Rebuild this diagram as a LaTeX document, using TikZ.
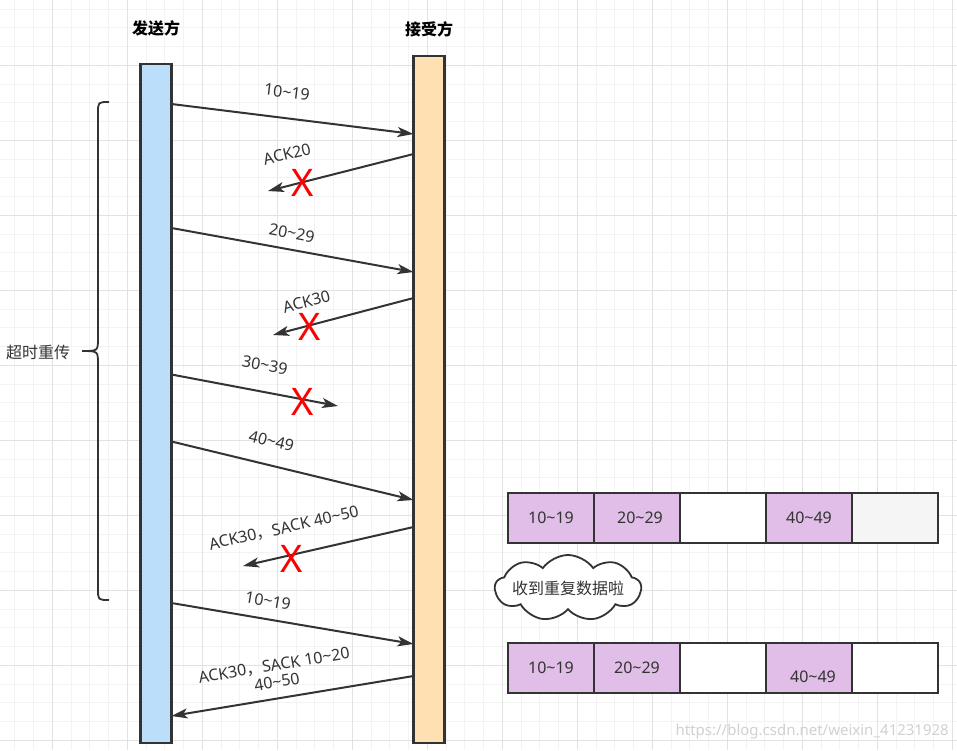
\documentclass[tikz,border=0pt]{standalone}
\usepackage{fontspec}
\setmainfont{Noto Sans}
\newfontfamily\cjk{Noto Sans CJK SC}
\usetikzlibrary{positioning,shapes.symbols,arrows.meta}
\definecolor{sendblue}{RGB}{187,222,251}
\definecolor{recvorange}{RGB}{255,224,178}
\definecolor{cellpurple}{RGB}{225,190,231}
\definecolor{cellgray}{RGB}{245,245,245}
\definecolor{linegray}{RGB}{51,51,51}
\definecolor{gridminor}{RGB}{243,243,243}
\definecolor{gridmajor}{RGB}{226,226,226}
\definecolor{lostred}{RGB}{255,0,0}
\newcommand{\tld}{\textasciitilde}

\begin{document}
\begin{tikzpicture}[x=1pt, y=-1pt,
    bar/.style={rectangle, draw=linegray, line width=2.2pt, minimum width=31pt, inner sep=0pt, outer sep=0pt},
    cell/.style={rectangle, draw=linegray, line width=2.2pt, minimum width=86pt, minimum height=50pt, inner sep=0pt, outer sep=0pt, text=linegray, font=\fontsize{16}{19}\selectfont},
    msg/.style={draw=linegray, line width=2pt, -{Stealth[length=16pt,width=10pt,inset=4pt]}},
    msglabel/.style={text=linegray, font=\fontsize{16}{17}\selectfont, inner sep=0pt},
    cjklabel/.style={text=linegray, font=\fontsize{16}{17}\selectfont\cjk, inner sep=0pt},
    lost/.style={text=lostred, font=\fontsize{38}{38}\selectfont, inner sep=0pt},
    title/.style={font=\fontsize{16}{19}\selectfont\cjk\bfseries, inner sep=0pt}]

    % background and grid
    \fill[white] (0,0) rectangle (957,750);
    \useasboundingbox (0,0) rectangle (957,750);
    \foreach \k in {0,...,50}
        \draw[gridminor, line width=1pt] ({14.8+18.75*\k},0) -- ({14.8+18.75*\k},750);
    \foreach \k in {0,...,40}
        \draw[gridminor, line width=1pt] (0,{-9.7+18.75*\k}) -- (957,{-9.7+18.75*\k});
    \foreach \k in {0,...,12}
        \draw[gridmajor, line width=1pt] ({52.3+75*\k},0) -- ({52.3+75*\k},750);
    \foreach \k in {1,...,10}
        \draw[gridmajor, line width=1pt] (0,{-9.7+75*\k}) -- (957,{-9.7+75*\k});

    % the two sides
    \node[bar, fill=sendblue, minimum height=679pt] (snd) at (156,403.5) {};
    \node[bar, fill=recvorange, minimum height=687pt] (rcv) at (429,399.5) {};
    \node[title, above=28pt of snd] (sndtitle) {发送方};
    \node[title, above=19pt of rcv] (rcvtitle) {接受方};

    % timeout brace
    \draw[linegray, line width=1.8pt] (109,102) .. controls (98,102) .. (98,113) -- (98,338)
        .. controls (98,351) .. (82,351) .. controls (98,351) .. (98,364) -- (98,589)
        .. controls (98,600) .. (109,600);
    \node[cjklabel] (retx) at (38,352) {超时重传};

    % segments and acks
    \draw[msg] (snd.east |- 0,104) -- (rcv.west |- 0,134);
    \node[msglabel, rotate=-6.9] (seg1019) at (287,92) {10\tld19};

    \coordinate (ack20end) at (268,191);
    \draw[msg] (rcv.west |- 0,154) -- (ack20end);
    \node[msglabel, rotate=13.7] (ack20) at (287,154) {ACK20};
    \node[lost] (lost1) at (303,183) {X};

    \draw[msg] (snd.east |- 0,228) -- (rcv.west |- 0,272);
    \node[msglabel, rotate=-10.4] (seg2029) at (292,233) {20\tld29};

    \coordinate (ack30end) at (273,335);
    \draw[msg] (rcv.west |- 0,298) -- (ack30end);
    \node[msglabel, rotate=14.5] (ack30) at (306.5,301.5) {ACK30};
    \node[lost] (lost2) at (309.5,327) {X};

    \coordinate (seg3039end) at (338,406);
    \draw[msg] (snd.east |- 0,374.5) -- (seg3039end);
    \node[msglabel, rotate=-10.6] (seg3039) at (265,365) {30\tld39};
    \node[lost] (lost3) at (302.5,402) {X};

    \draw[msg] (snd.east |- 0,441.5) -- (rcv.west |- 0,500);
    \node[msglabel, rotate=-13.8] (seg4049) at (271.5,441) {40\tld49};

    \coordinate (sack1end) at (243,566);
    \draw[msg] (rcv.west |- 0,527) -- (sack1end);
    \node[msglabel, rotate=12.7] (sack1) at (284,528.5) {ACK30{\cjk ，}SACK 40\tld50};
    \node[lost] (lost4) at (291.5,558.5) {X};

    \draw[msg] (snd.east |- 0,603) -- (rcv.west |- 0,644);
    \node[msglabel, rotate=-9.7] (resend) at (268,601) {10\tld19};

    \draw[msg] (rcv.west |- 0,676) -- (snd.east |- 0,716);
    \node[msglabel, rotate=9.5, align=center] (sack2) at (275.5,673.5) {ACK30{\cjk ，}SACK 10\tld20\\40\tld50};

    % receive buffer before
    \node[cell, fill=cellpurple] (bufa1) at (551,518) {10\tld19};
    \node[cell, fill=cellpurple, right=0pt of bufa1] (bufa2) {\hspace{6pt}20\tld29};
    \node[cell, fill=white, right=0pt of bufa2] (bufa3) {};
    \node[cell, fill=cellpurple, right=0pt of bufa3] (bufa4) {40\tld49};
    \node[cell, fill=cellgray, right=0pt of bufa4] (bufa5) {};

    \node[cloud, cloud puffs=9, cloud puff arc=110, aspect=2.2, draw=linegray, line width=1.8pt, fill=white,
        minimum width=146pt, minimum height=66pt, inner sep=0pt] (dupcloud) at (568,588) {};
    \node[cjklabel] (duptext) at (dupcloud) {收到重复数据啦};

    % receive buffer after
    \node[cell, fill=cellpurple] (bufb1) at (551,668) {10\tld19};
    \node[cell, fill=cellpurple, right=0pt of bufb1] (bufb2) {20\tld29};
    \node[cell, fill=white, right=0pt of bufb2] (bufb3) {};
    \node[cell, fill=cellpurple, right=0pt of bufb3,
        label={[text=linegray, font=\fontsize{16}{19}\selectfont, yshift=-9pt, xshift=4pt]center:40\tld49}] (bufb4) {};
    \node[cell, fill=white, right=0pt of bufb4] (bufb5) {};

    \node[text=black!18, font=\fontsize{15}{15}\selectfont, anchor=east, inner sep=0pt] (mark) at (949,732) {https://blog.csdn.net/weixin\_41231928};
\end{tikzpicture}
\end{document}
